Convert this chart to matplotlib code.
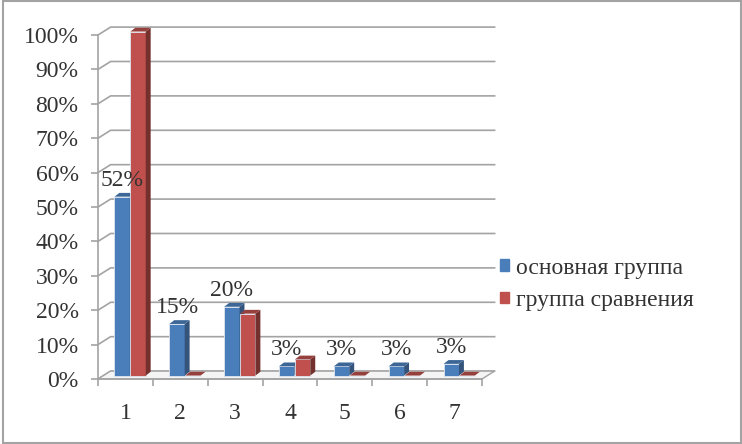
import matplotlib
matplotlib.use("Agg")
import matplotlib.pyplot as plt
from matplotlib.patches import Polygon, Patch

plt.rcParams['font.family'] = ['Liberation Serif', 'DejaVu Serif']

# Data
#-----
categories = ['1', '2', '3', '4', '5', '6', '7']
main_group = [52, 15, 20, 2.7, 2.7, 2.7, 3.4]
comparison_group = [100, 0, 18, 4.7, 0, 0, 0]
y_ticks = [0, 10, 20, 30, 40, 50, 60, 70, 80, 90, 100]
series_names = ['основная группа', 'группа сравнения']

# Style
#------
W, H = 742.0, 444.0
GREY = '#a3a3a3'
TEXT = '#333333'
BLUE, BLUE_SIDE, BLUE_TOP = '#4a7ebb', '#34547c', '#3b6696'
RED, RED_SIDE, RED_TOP = '#c0504d', '#74302d', '#96403d'
DX, DY = 0.23, 2.3       # depth of the back wall, in data units
BAR_W = 0.28
BAR_DX, BAR_DY = 0.09, 1.1  # depth of one bar
BASE = 1.0               # bars stand a little behind the front edge

fig = plt.figure(figsize=(W/100, H/100), dpi=100)
ax = fig.add_axes([98/W, 1-379/H, 384/W, 344/H])
ax.set_xlim(0, len(categories))
ax.set_ylim(0, 100)
ax.patch.set_visible(False)

# Picture border
fig.add_artist(plt.Rectangle((2.5/W, 0.6/H), 738.5/W, 442/H, transform=fig.transFigure,
                             fill=False, edgecolor=GREY, lw=1.5))

# Back wall and left wall
#------------------------
n = len(categories)
for t in y_ticks:
    ax.plot([0, DX, n+DX], [t, t+DY, t+DY], color=GREY, lw=1.2, clip_on=False, zorder=1)
ax.add_patch(Polygon([(0, 0), (n, 0), (n+DX, DY), (DX, DY)], closed=True, facecolor='#f4f4f4',
                     edgecolor=GREY, lw=1.0, clip_on=False, zorder=1.5))


def draw_bar(x, v, front, side, top, z):
    x0, x1 = x, x+BAR_W
    y0, y1 = BASE, BASE+v
    ax.bar(x0, v, BAR_W, bottom=BASE, align='edge', color=front, edgecolor='#dfe6f0', lw=0.6,
           clip_on=False, zorder=z)
    ax.add_patch(Polygon([(x1, y0), (x1+BAR_DX, y0+BAR_DY), (x1+BAR_DX, y1+BAR_DY), (x1, y1)],
                         closed=True, facecolor=side, edgecolor='none', clip_on=False, zorder=z))
    ax.add_patch(Polygon([(x0, y1), (x1, y1), (x1+BAR_DX, y1+BAR_DY), (x0+BAR_DX, y1+BAR_DY)],
                         closed=True, facecolor=top, edgecolor='none', clip_on=False, zorder=z))


# Bars
#-----
for i in range(n):
    left = i + 0.5 - BAR_W + 0.08
    draw_bar(left, main_group[i], BLUE, BLUE_SIDE, BLUE_TOP, 2+i*0.1)
    draw_bar(left+BAR_W+0.01, comparison_group[i], RED, RED_SIDE, RED_TOP, 2.05+i*0.1)
    ax.annotate('%d%%' % round(main_group[i]), (left+BAR_W/2, BASE+main_group[i]),
                xytext=(0, 12), textcoords='offset points', ha='center', va='center',
                fontsize=17, color=TEXT, zorder=5)

# Axes
#-----
for s in ('top', 'right'):
    ax.spines[s].set_visible(False)
for s in ('left', 'bottom'):
    ax.spines[s].set_color(GREY)
    ax.spines[s].set_linewidth(1.2)
    ax.spines[s].set_zorder(1.8)
ax.set_yticks(y_ticks)
ax.set_yticklabels(['%d%%' % t for t in y_ticks], fontsize=17, color=TEXT)
ax.tick_params(axis='y', length=5, width=1.2, color=GREY, pad=9)
ax.set_xticks(range(n+1))
ax.set_xticklabels([])
ax.tick_params(axis='x', length=5, width=1.2, color=GREY)
ax.set_xticks([i+0.5 for i in range(n)], minor=True)
ax.set_xticklabels(categories, minor=True, fontsize=17, color=TEXT)
ax.tick_params(axis='x', which='minor', length=0, pad=17)

# Legend
#-------
handles = [Patch(color=BLUE, label=series_names[0]), Patch(color=RED, label=series_names[1])]
fig.legend(handles=handles, loc='upper left', bbox_to_anchor=(493/W, 1-250.5/H), frameon=False,
           fontsize=17, labelcolor=TEXT, handlelength=0.38, handleheight=0.38, handletextpad=0.3,
           labelspacing=0.48, borderpad=0.3, borderaxespad=0)

fig.savefig('out.png', dpi=100)
